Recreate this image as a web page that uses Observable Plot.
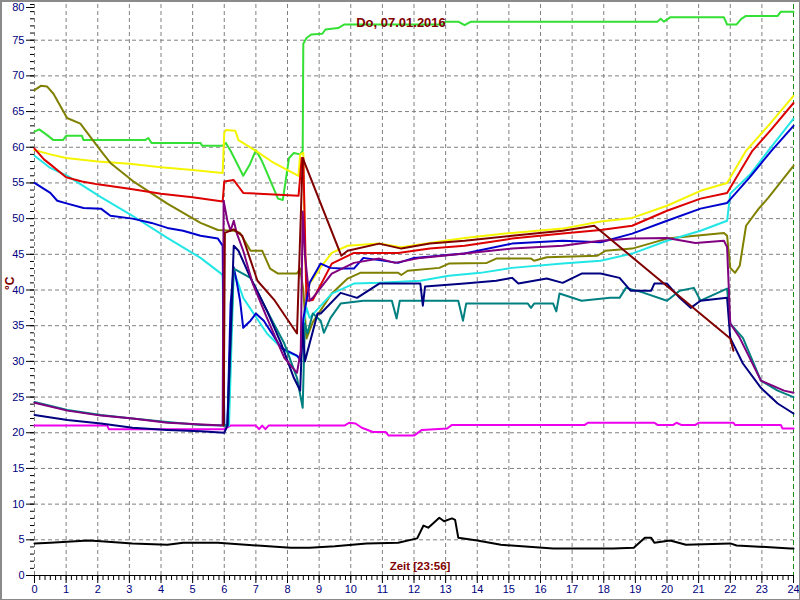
<!DOCTYPE html>
<html>
<head>
<meta charset="utf-8">
<script src="https://cdn.jsdelivr.net/npm/d3@7"></script>
<script src="https://cdn.jsdelivr.net/npm/@observablehq/plot@0.6"></script>
<style>
  html, body { margin: 0; padding: 0; background: #fff; }
  #wrap { position: relative; width: 800px; height: 600px; overflow: hidden; }
  #wrap svg { display: block; }
  #wrap::after { content: ""; position: absolute; left: 0; top: 0; right: 0; bottom: 0; border: 1px solid #8a8a8a; border-left-width: 2px; border-top-width: 2px; pointer-events: none; }
</style>
</head>
<body>
<div id="wrap"></div>
<script>
// ---- Texts ----
const titleText = "Do, 07.01.2016";
const xLabel = "Zeit [23:56]";
const yLabel = "°C";

// ---- Tick values ----
const xTicks = d3.range(0, 25, 1);
const yTicks = d3.range(0, 81, 5);

// ---- Series: [hour, °C] ----
const green = [[0,62.2],[0.15,62.5],[0.4,61.7],[0.6,61],[0.9,61],[1.0,61.6],[1.5,61.6],[1.55,61],[3.5,61],[3.6,61.3],[3.7,60.6],[5.25,60.6],[5.3,60.2],[5.95,60.2],[6.05,60.6],[6.2,59.5],[6.6,56],[6.8,57.5],[7.0,59.6],[7.2,58],[7.7,52.8],[7.85,52.6],[8.05,58.5],[8.2,59.2],[8.4,59],[8.48,59.5],[8.5,74.5],[8.6,75.3],[8.75,75.8],[9.1,75.9],[9.2,76.5],[9.6,76.7],[9.8,77.2],[12.9,77.2],[13.0,77.6],[13.4,77.6],[13.6,77.1],[13.8,77.6],[19.7,77.6],[19.8,78],[19.9,77.6],[20.1,78.2],[21.8,78.2],[21.9,77.2],[22.2,77.2],[22.35,78],[22.5,78.4],[23.5,78.4],[23.6,79],[24,79]];
const yellow = [[0,59.6],[0.5,59],[1,58.5],[2,58],[3,57.7],[4,57.2],[5,56.8],[5.95,56.4],[6.0,62],[6.05,62.4],[6.35,62.3],[6.45,61],[7,59.5],[7.5,58],[8.0,56.8],[8.35,56],[8.4,59],[8.5,59.2],[8.55,45],[8.62,40.5],[8.8,41.5],[9.1,43.5],[9.4,45.2],[9.9,46.2],[10.9,46.5],[11.6,46],[12.5,46.6],[13.6,47.3],[15.1,48],[16.7,48.6],[17.9,49.6],[18.9,50.1],[20,51.8],[21.06,53.9],[21.9,55],[22.5,59.5],[23.2,63],[24,67.2]];
const red = [[0,59.8],[0.3,58.3],[0.5,57.6],[1,55.8],[1.5,55.2],[2,54.8],[3,54.2],[4,53.5],[5,53],[5.95,52.4],[6.0,55.2],[6.3,55.4],[6.45,54.5],[6.6,53.6],[8.35,53.2],[8.45,58.5],[8.5,58.5],[8.6,38.5],[8.8,38.6],[9.4,43.7],[10.1,45.2],[11.5,45.2],[12.5,45.8],[13.6,46.2],[15.1,47.2],[16.7,47.9],[17.9,48.4],[18.9,49],[20,51.1],[21.06,52.8],[21.9,53.6],[22.7,59.5],[23.3,62.5],[24,66.2]];
const olive = [[0,68],[0.2,68.6],[0.4,68.5],[0.6,67.5],[1.03,64.1],[1.45,63.3],[2.1,59.5],[2.4,57.8],[3.1,55.3],[4.2,52.1],[5.25,49.4],[5.8,48.4],[6.3,48.3],[6.5,48],[6.83,45.5],[7.2,45.5],[7.45,43],[7.7,42.3],[8.3,42.3],[8.4,43],[8.5,40],[8.6,33.2],[8.8,35.5],[9.4,39.5],[9.9,41.6],[10.3,42.4],[11.5,42.4],[11.6,42.1],[11.8,42.7],[12.8,43.1],[13.1,43.7],[14.3,43.8],[14.6,44.4],[15.7,44.4],[15.8,44.1],[16.2,44.6],[17.8,44.8],[18.05,45.5],[18.9,45.8],[20,47.2],[20.4,47.4],[21.8,48],[21.9,47.6],[22.0,43.1],[22.15,42.4],[22.3,43.4],[22.5,49],[22.9,51.4],[23.2,52.9],[24,57.4]];
const blue = [[0,55],[0.5,53.6],[0.72,52.5],[1.04,52.1],[1.55,51.5],[2.1,51.4],[2.4,50.4],[3.1,50],[3.7,49.4],[4.2,48.7],[4.7,48.3],[5.25,47.6],[5.8,47.2],[5.95,46.2],[6.0,21],[6.1,21],[6.2,38],[6.3,43.2],[6.4,41],[6.5,38.5],[6.6,34.7],[6.83,35.7],[7.0,36.7],[7.25,35.7],[7.8,31.9],[8.3,30.8],[8.42,30.1],[8.5,36],[8.7,41],[9.05,43.7],[9.35,43.1],[9.7,43],[10.1,43],[10.4,44.5],[11.5,43.8],[12,44.5],[13.6,45.1],[15.1,46.5],[16.7,46.9],[17.9,46.7],[18.9,47.9],[20,49.7],[21.06,51.4],[21.9,52.2],[22.6,55.7],[23.3,59.5],[24,63]];
const cyan = [[0,58.8],[0.5,57.1],[1.04,56],[2.1,53],[3.1,50.4],[4.2,47.3],[5.25,44.5],[5.9,42.3],[5.95,42],[6.0,21],[6.15,21],[6.3,42.7],[6.6,38.9],[7.35,33.9],[7.9,31.5],[8.42,30.5],[8.5,35],[8.6,37.5],[8.7,36.1],[9.4,39.5],[10.1,40.9],[10.9,41],[12.2,41.3],[13.1,42],[14.1,42.4],[15.1,43.1],[16.7,43.7],[17.9,44.1],[18.9,45.1],[20,46.9],[21.06,48.3],[21.9,49.7],[22.0,53.5],[22.65,56.3],[23.2,59.5],[24,64]];
const purple = [[0,24.2],[1.04,23.1],[2.1,22.4],[3.1,22],[4.2,21.4],[4.7,21.3],[5.95,21],[5.98,52.5],[6.1,49.7],[6.2,48.3],[6.3,49.7],[6.4,47.9],[6.6,45.5],[6.9,40.9],[7.35,36.1],[7.9,30.5],[8.3,28.4],[8.42,31.5],[8.48,51],[8.55,45],[8.7,38.5],[8.8,38.9],[9.4,42.3],[10.1,43.8],[10.9,44.4],[11.4,43.8],[12.2,44.5],[13.6,45.1],[15.1,45.8],[16.7,46.2],[17.9,46.9],[18.9,47.2],[20,47.3],[20.9,46.6],[21.8,46.9],[21.9,46],[22.0,35.3],[22.3,33.3],[22.97,27.3],[23.7,25.9],[24,25.6]];
const maroon = [[5.98,21],[6.02,48],[6.3,48.5],[6.57,47.6],[7.05,41.3],[7.6,38.5],[8.3,33.9],[8.48,58.5],[9.7,44.8],[9.9,45.5],[10.9,46.5],[11.6,45.8],[12.5,46.5],[13.6,46.9],[15.1,47.6],[16.7,48.3],[17.7,49],[22.0,33.2],[22.1,31.5]];
const navy = [[0,22.5],[1.04,21.8],[2.1,21.3],[3.1,20.7],[4.2,20.4],[5.25,20.2],[6.0,20],[6.1,21],[6.3,46.2],[6.45,45.5],[6.83,41.7],[7.35,37.1],[7.8,32.5],[8.2,27.7],[8.4,25.9],[8.48,35],[8.55,30],[8.95,36.7],[9.05,36.7],[9.68,39.6],[10.2,38.9],[10.9,40.9],[12.2,40.9],[12.28,37.8],[12.35,40.5],[13.6,40.9],[14.6,41.3],[15.1,41.7],[15.3,40.9],[16.2,41.6],[16.7,41],[17.3,42.3],[17.9,42.3],[18.5,41.7],[18.85,39.9],[19.5,39.9],[19.6,40.9],[20,40.9],[20.4,38.9],[20.75,37.5],[21.06,38.5],[21.9,38.9],[22,33.3],[22.4,29.7],[22.97,26.3],[23.5,24.1],[24,22.7]];
const teal = [[0,24.3],[1.04,23.2],[2.1,22.5],[3.1,22],[4.2,21.5],[5.25,21.1],[6.1,21],[6.3,43],[6.83,41.7],[7.35,37.1],[7.9,32.5],[8.3,27.7],[8.48,23.5],[8.55,35.3],[8.63,33.9],[8.8,36.7],[9.05,35.7],[9.15,34],[9.36,36.1],[9.68,38.1],[10.4,38.5],[11.3,38.5],[11.45,36],[11.55,38.5],[13.4,38.5],[13.55,35.7],[13.65,38.1],[15.6,38.1],[15.7,37.5],[15.8,38.1],[16.4,38.1],[16.5,37],[16.6,39.5],[17.3,38.5],[18.2,38.9],[18.5,38.9],[18.7,40.3],[19.2,39.7],[20,38.5],[20.4,39.9],[20.85,40.3],[21.06,38.5],[21.9,40.2],[22,35.3],[22.4,33.3],[22.97,27.3],[23.5,25.9],[24,25]];
const magenta = [[0,21],[2.3,21],[2.35,20.5],[6.0,20.5],[6.2,21],[7.0,21],[7.1,20.5],[7.2,21],[7.3,20.5],[7.4,21],[9.8,21],[9.95,21.4],[10.15,21.3],[10.35,20.7],[10.7,20.1],[11.1,20.1],[11.2,19.6],[12.0,19.6],[12.25,20.4],[13.05,20.6],[13.2,21.1],[17.4,21.1],[17.5,21.4],[19.6,21.4],[19.7,21.1],[20.2,21.1],[20.3,21.4],[20.45,21.1],[20.9,21.1],[21.0,21.4],[22.1,21.4],[22.15,21.1],[23.6,21.1],[23.65,20.6],[24,20.6]];
const black = [[0,4.5],[0.5,4.6],[1.7,4.9],[2.1,4.8],[3.1,4.5],[4.2,4.3],[4.7,4.6],[5.8,4.6],[7.05,4.2],[8.1,3.9],[8.7,3.9],[9.5,4.1],[10.5,4.5],[11.5,4.6],[12.1,5.2],[12.3,7],[12.45,6.7],[12.6,7.3],[12.8,8.1],[12.95,7.6],[13.2,8],[13.3,7.8],[13.4,5.3],[14,4.9],[14.75,4.3],[16.4,3.8],[18.3,3.8],[18.95,3.9],[19.3,5.3],[19.5,5.3],[19.6,4.6],[20.1,4.9],[20.6,4.3],[22,4.5],[22.2,4.2],[23.9,3.8],[24,3.8]];

const seriesList = [
  [black, "#000000"],
  [magenta, "#ee00ee"],
  [green, "#33e033"],
  [yellow, "#f5f500"],
  [olive, "#808000"],
  [cyan, "#22e6e6"],
  [red, "#dd0000"],
  [blue, "#0000cc"],
  [teal, "#008080"],
  [navy, "#000080"],
  [purple, "#800080"],
  [maroon, "#800000"]
];

const gridStyle = {stroke: "#808080", strokeOpacity: 1, strokeDasharray: "4,3", strokeWidth: 1};

const chart = Plot.plot({
  width: 800,
  height: 600,
  marginLeft: 34,
  marginRight: 7,
  marginTop: 4,
  marginBottom: 25,
  x: {domain: [0, 24]},
  y: {domain: [0, 80]},
  style: {fontFamily: "'Liberation Sans', Arial, sans-serif", fontSize: "11px", background: "transparent", overflow: "visible"},
  marks: [
    Plot.gridX(xTicks.filter(d => d < 24), gridStyle),
    Plot.gridY(yTicks.filter(d => d > 0 && d < 80), gridStyle),
    Plot.ruleX([24], {stroke: "#1a8a1a", strokeDasharray: "5,3", strokeWidth: 1}),
    Plot.axisY(yTicks.filter(d => d < 80), {tickSize: 8, tickPadding: 2, fill: "#000080", stroke: "#000", label: null}),
    Plot.axisY(yTicks.filter(d => d === 80), {tickSize: 8, tickPadding: 2, fill: "#000080", stroke: "#000", label: null, dy: 3}),
    Plot.axisY(d3.range(0, 81, 1), {tickSize: 4, tickFormat: () => "", stroke: "#000", label: null}),
    Plot.axisX(xTicks, {tickSize: 8, tickPadding: 2, fill: "#000080", stroke: "#000", label: null}),
    Plot.axisX(d3.range(0, 145, 1).map(i => i / 6), {tickSize: 5, tickFormat: () => "", stroke: "#000", label: null}),
    Plot.ruleY([0], {stroke: "#000", strokeWidth: 1}),
    ...seriesList.map(([data, color]) => Plot.line(data, {x: d => d[0], y: d => d[1], stroke: color, strokeWidth: 2})),
    Plot.text([titleText], {frameAnchor: "top", dy: 13, dx: -13, fill: "#800000", fontWeight: "bold", fontSize: 13}),
    Plot.text([xLabel], {frameAnchor: "bottom", dy: -6, dx: 6, fill: "#800000", fontWeight: "bold", fontSize: 11.5}),
    Plot.text([yLabel], {frameAnchor: "left", dx: -24, rotate: -90, fill: "#800000", fontWeight: "bold", fontSize: 12})
  ]
});
document.getElementById("wrap").appendChild(chart);
</script>
</body>
</html>
